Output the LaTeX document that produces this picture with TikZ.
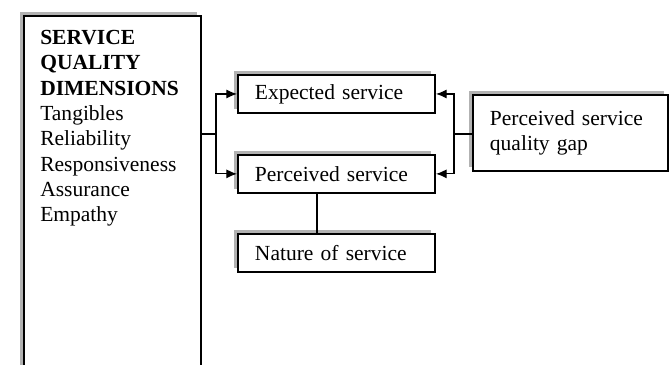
\documentclass[tikz,border=0pt]{standalone}
\usepackage{fontspec}
\setmainfont{Liberation Serif}
\usepackage{tikz}
\usetikzlibrary{arrows.meta, positioning, shadows, calc}
\newcommand{\servfont}{\fontsize{15.3}{18}\selectfont}
\tikzset{
  frame/.style={rectangle, draw, line width=1.3pt, fill=white,
                minimum width=4.425cm, minimum height=12cm,
                drop shadow={shadow xshift=-0.1cm, shadow yshift=0.1cm,
                             fill=black, opacity=0.3}},
  servbox/.style={rectangle, draw, line width=1.3pt, fill=white,
                  text width=4.075cm, inner xsep=0.425cm, inner ysep=0pt,
                  minimum height=0.95cm, align=left, font=\servfont,
                  drop shadow={shadow xshift=-0.1cm, shadow yshift=0.1cm,
                               fill=black, opacity=0.3}},
  gapbox/.style={servbox, text width=4.025cm, minimum height=1.9cm},
  arr/.style={-{Latex[length=2.7mm, width=2.3mm]}, line width=0.9pt},
  joint/.style={line width=0.9pt},
}

\begin{document}
\begin{tikzpicture}[x=0.025cm, y=-0.025cm]
  \useasboundingbox (0,0) rectangle (672,365);
  \clip (0,0) rectangle (672,365);

  % Dimensions column (open at the bottom)
  \node [frame, anchor=north west] (dimbox) at (23,15) {};
  \node [anchor=north west, inner sep=0pt, align=left, font=\servfont] (dimtext) at (40,30)
    {\textbf{SERVICE}\\\textbf{QUALITY}\\\textbf{DIMENSIONS}\\Tangibles\\Reliability\\Responsiveness\\Assurance\\Empathy};

  % Service boxes
  \node [servbox] (expected) at (336.5,94) {Expected service};
  \node [servbox, below=1cm of expected] (perceived) {Perceived service};
  \node [servbox, below=0.975cm of perceived] (nature) {Nature of service};

  % Gap box
  \node [gapbox] (gap) at (570.5,133) {Perceived service\\quality gap};

  % Junctions
  \coordinate (ljoin) at ($(expected.west)!0.5!(perceived.west) + (-21,0)$);
  \coordinate (rjoin) at ($(expected.east)!0.5!(perceived.east) + (18,0)$);

  % Edges
  \draw [joint] (dimbox.east |- ljoin) -- (ljoin);
  \draw [arr] (ljoin) |- (expected.west);
  \draw [arr] (ljoin) |- (perceived.west);

  \draw [joint] (gap.west |- rjoin) -- (rjoin);
  \draw [arr] (rjoin) |- (expected.east);
  \draw [arr] (rjoin) |- (perceived.east);

  \draw [joint] ([xshift=-0.49cm]perceived.south) -- ([xshift=-0.49cm]nature.north);
\end{tikzpicture}
\end{document}
